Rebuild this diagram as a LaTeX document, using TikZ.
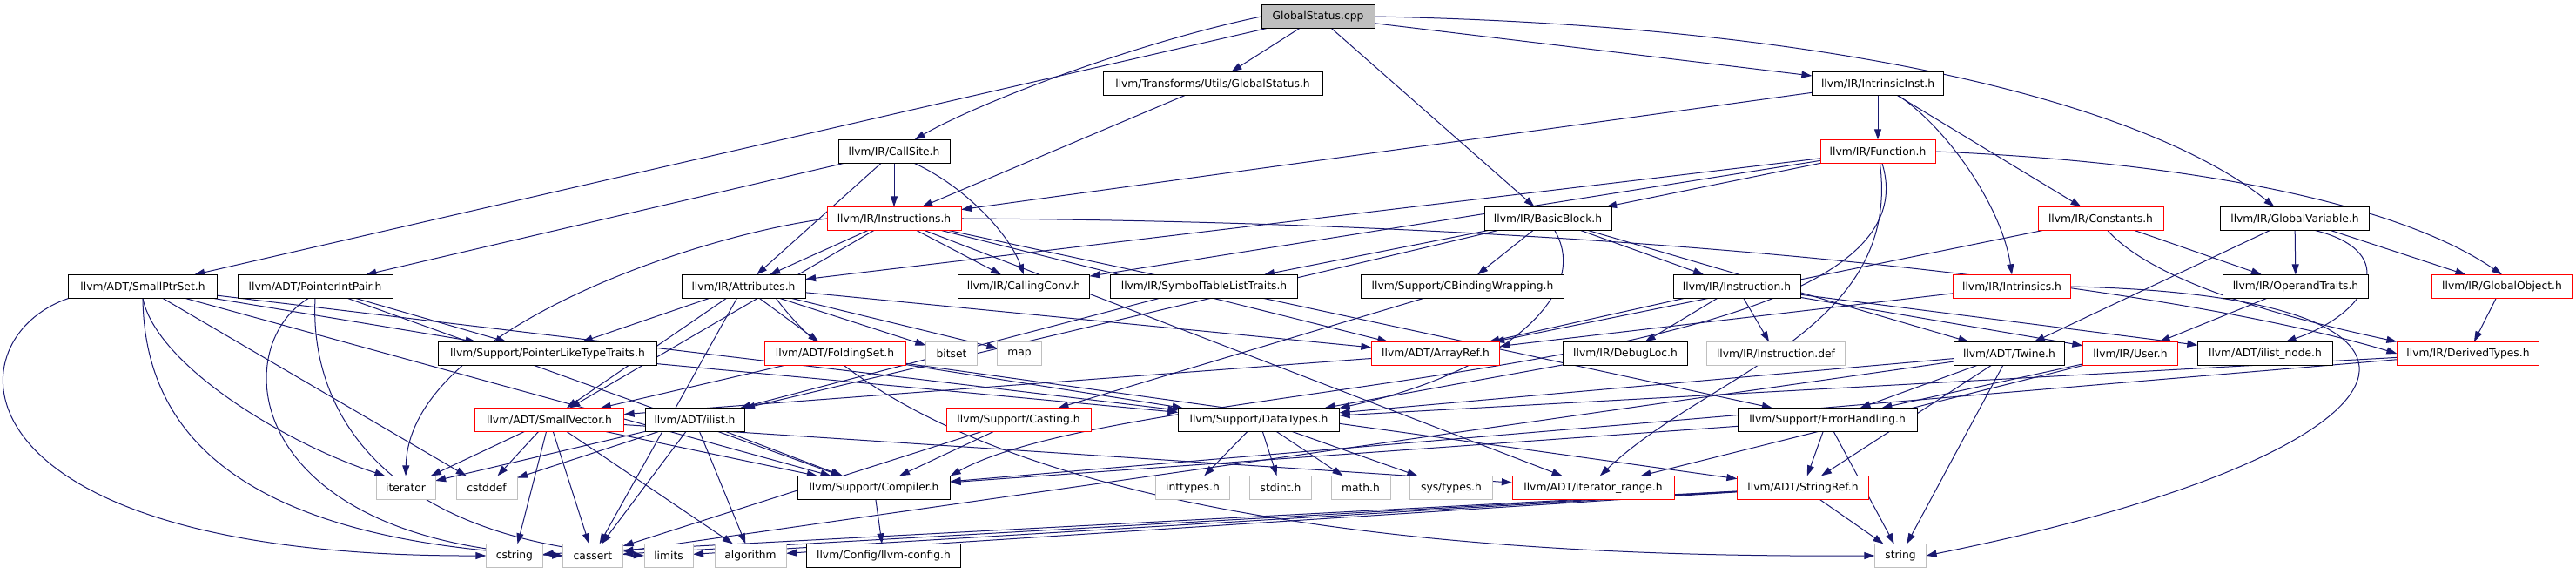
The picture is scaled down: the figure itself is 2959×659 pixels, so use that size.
\documentclass[tikz,border=0pt]{standalone}
\usepackage{fontspec}
\setmainfont{DejaVu Sans}
\usetikzlibrary{arrows.meta}
\pgfdeclarelayer{edges}
\pgfsetlayers{edges,main}
\definecolor{edgeblue}{HTML}{191970}
\definecolor{boxred}{HTML}{FF0000}
\definecolor{boxgray}{HTML}{BFBFBF}
\tikzset{
  hdr/.style={draw=black, fill=white, line width=0.25pt, minimum height=27pt, inner sep=0pt, font=\fontsize{12.3}{14}\selectfont},
  hdrred/.style={hdr, draw=boxred},
  sys/.style={hdr, draw=boxgray},
  src/.style={hdr, fill=boxgray},
  dep/.style={-{Triangle[length=3pt,width=2pt]}, draw=edgeblue, line width=0.25pt}
}

\begin{document}
\begin{tikzpicture}[x=1pt, y=1pt, scale=0.25, every node/.append style={transform shape}]
\useasboundingbox (0,0) rectangle (2959,-659);

% row 0 to 3
\node (root) at (1514,-19) [src, minimum width=130pt] {GlobalStatus.cpp};
\node (gsh) at (1393,-96) [hdr, minimum width=252pt] {llvm/Transforms/Utils/GlobalStatus.h};
\node (ii) at (2157,-96) [hdr, minimum width=151pt] {llvm/IR/IntrinsicInst.h};
\node (cs) at (1027,-174) [hdr, minimum width=128pt] {llvm/IR/CallSite.h};
\node (fn) at (2157,-174) [hdrred, minimum width=132pt] {llvm/IR/Function.h};
\node (ins) at (1027,-251) [hdrred, minimum width=154pt] {llvm/IR/Instructions.h};
\node (bb) at (1778,-251) [hdr, minimum width=146pt] {llvm/IR/BasicBlock.h};
\node (cst) at (2413,-251) [hdrred, minimum width=144pt] {llvm/IR/Constants.h};
\node (gv) at (2636,-251) [hdr, minimum width=171pt] {llvm/IR/GlobalVariable.h};

% row 4
\node (sps) at (164,-329) [hdr, minimum width=171pt] {llvm/ADT/SmallPtrSet.h};
\node (pip) at (362,-329) [hdr, minimum width=178pt] {llvm/ADT/PointerIntPair.h};
\node (att) at (854,-329) [hdr, minimum width=142pt] {llvm/IR/Attributes.h};
\node (cc) at (1176,-329) [hdr, minimum width=151pt] {llvm/IR/CallingConv.h};
\node (stlt) at (1383,-329) [hdr, minimum width=215pt] {llvm/IR/SymbolTableListTraits.h};
\node (cbw) at (1680,-329) [hdr, minimum width=233pt] {llvm/Support/CBindingWrapping.h};
\node (inst) at (1995,-329) [hdr, minimum width=146pt] {llvm/IR/Instruction.h};
\node (intr) at (2311,-329) [hdrred, minimum width=135pt] {llvm/IR/Intrinsics.h};
\node (ot) at (2637,-329) [hdr, minimum width=167pt] {llvm/IR/OperandTraits.h};
\node (go) at (2874,-329) [hdrred, minimum width=161pt] {llvm/IR/GlobalObject.h};

% row 5
\node (pltt) at (629,-406) [hdr, minimum width=251pt] {llvm/Support/PointerLikeTypeTraits.h};
\node (fs) at (959,-406) [hdrred, minimum width=162pt] {llvm/ADT/FoldingSet.h};
\node (bits) at (1093,-406) [sys, minimum width=59pt] {bitset};
\node (map) at (1171,-406) [sys, minimum width=51pt] {map};
\node (arr) at (1649,-406) [hdrred, minimum width=147pt] {llvm/ADT/ArrayRef.h};
\node (dl) at (1867,-406) [hdr, minimum width=143pt] {llvm/IR/DebugLoc.h};
\node (idef) at (2040,-406) [sys, minimum width=159pt] {llvm/IR/Instruction.def};
\node (tw) at (2308,-406) [hdr, minimum width=127pt] {llvm/ADT/Twine.h};
\node (usr) at (2447,-406) [hdrred, minimum width=109pt] {llvm/IR/User.h};
\node (iln) at (2602,-406) [hdr, minimum width=155pt] {llvm/ADT/ilist\_node.h};
\node (dty) at (2835,-406) [hdrred, minimum width=163pt] {llvm/IR/DerivedTypes.h};

% row 6
\node (sv) at (631,-482) [hdrred, minimum width=171pt] {llvm/ADT/SmallVector.h};
\node (ilst) at (798,-482) [hdr, minimum width=114pt] {llvm/ADT/ilist.h};
\node (cast) at (1170,-482) [hdrred, minimum width=166pt] {llvm/Support/Casting.h};
\node (dt) at (1446,-482) [hdr, minimum width=185pt] {llvm/Support/DataTypes.h};
\node (eh) at (2099,-482) [hdr, minimum width=206pt] {llvm/Support/ErrorHandling.h};

% row 7
\node (iter) at (466,-560) [sys, minimum width=68pt] {iterator};
\node (cdd) at (559,-560) [sys, minimum width=70pt] {cstddef};
\node (cmp) at (1004,-560) [hdr, minimum width=175pt] {llvm/Support/Compiler.h};
\node (inty) at (1370,-560) [sys, minimum width=85pt] {inttypes.h};
\node (stdi) at (1471,-560) [sys, minimum width=71pt] {stdint.h};
\node (math) at (1563,-560) [sys, minimum width=68pt] {math.h};
\node (syst) at (1667,-560) [sys, minimum width=95pt] {sys/types.h};
\node (itr) at (1830,-560) [hdrred, minimum width=186pt] {llvm/ADT/iterator\_range.h};
\node (sref) at (2071,-560) [hdrred, minimum width=151pt] {llvm/ADT/StringRef.h};

% row 8
\node (cstr) at (591,-638) [sys, minimum width=65pt] {cstring};
\node (cas) at (681,-638) [sys, minimum width=69pt] {cassert};
\node (lim) at (768,-638) [sys, minimum width=56pt] {limits};
\node (alg) at (862,-638) [sys, minimum width=82pt] {algorithm};
\node (cfg) at (1015,-638) [hdr, minimum width=177pt] {llvm/Config/llvm-config.h};
\node (str) at (2183,-638) [sys, minimum width=59pt] {string};

\begin{pgfonlayer}{edges}
% GlobalStatus.cpp
\draw[dep] (root) -- (gsh);
\draw[dep] (root) -- (sps);
\draw[dep] (root.west) .. controls (1300,-50) and (1120,-120) .. (cs.30);
\draw[dep] (root) -- (bb);
\draw[dep] (root) -- (ii);
\draw[dep] (root.east) .. controls (2150,-30) and (2480,-130) .. (gv.150);
\draw[dep] (gsh) -- (ins);

% CallSite.h
\draw[dep] (cs) -- (pip);
\draw[dep] (cs) -- (att);
\draw[dep] (cs) -- (ins);
\draw[dep] (cs.-30) .. controls (1110,-215) and (1160,-270) .. (cc.north);

% IntrinsicInst.h
\draw[dep] (ii) -- (fn);
\draw[dep] (ii) -- (ins);
\draw[dep] (ii.-30) .. controls (2240,-150) and (2300,-240) .. (intr.north);
\draw[dep] (ii) -- (cst);

% Function.h
\draw[dep] (fn) -- (att);
\draw[dep] (fn) -- (cc);
\draw[dep] (fn) -- (bb);
\draw[dep] (fn.east) .. controls (2500,-185) and (2750,-230) .. (go.north);
\draw[dep] (fn.-80) .. controls (2185,-380) and (1960,-430) .. (itr.60);
\draw[dep] (fn.-70) .. controls (2240,-440) and (1300,-430) .. (cmp.north east);

% Instructions.h
\draw[dep] (ins) -- (att);
\draw[dep] (ins) -- (cc);
\draw[dep] (ins) -- (arr);
\draw[dep] (ins) -- (sv);
\draw[dep] (ins) -- (itr);
\draw[dep] (ins) -- (eh);
\draw[dep] (ins.east) .. controls (1900,-255) and (2500,-330) .. (dty.west);
\draw[dep] (ins.west) .. controls (800,-270) and (470,-380) .. (iter.north);

% BasicBlock.h
\draw[dep] (bb) -- (stlt);
\draw[dep] (bb) -- (ilst);
\draw[dep] (bb) -- (cbw);
\draw[dep] (bb.-60) .. controls (1830,-340) and (1720,-430) .. (dt.north east);
\draw[dep] (bb) -- (inst);
\draw[dep] (bb) -- (tw);

% Constants.h and GlobalVariable.h
\draw[dep] (cst) -- (arr);
\draw[dep] (cst) -- (ot);
\draw[dep] (cst.-60) .. controls (2480,-330) and (2650,-370) .. (dty.north west);
\draw[dep] (gv) -- (tw);
\draw[dep] (gv) -- (ot);
\draw[dep] (gv.-30) .. controls (2760,-290) and (2720,-360) .. (iln.30);
\draw[dep] (gv) -- (go);

% SmallPtrSet.h
\draw[dep] (sps.south west) .. controls (-60,-390) and (-60,-640) .. (cstr.west);
\draw[dep] (sps.south) .. controls (166,-480) and (250,-620) .. (cas.west);
\draw[dep] (sps.south) .. controls (180,-420) and (330,-510) .. (iter.150);
\draw[dep] (sps) -- (cdd);
\draw[dep] (sps) -- (cmp);
\draw[dep] (sps) -- (dt);
\draw[dep] (sps) -- (pltt);

% PointerIntPair.h
\draw[dep] (pip) -- (pltt);
\draw[dep] (pip) -- (cmp);
\draw[dep] (pip.-120) .. controls (260,-400) and (280,-620) .. (cas.west);
\draw[dep] (pip.south) .. controls (355,-480) and (450,-620) .. (lim.west);

% Attributes.h
\draw[dep] (att) -- (pltt);
\draw[dep] (att) -- (sv);
\draw[dep] (att) -- (fs);
\draw[dep] (att) -- (bits);
\draw[dep] (att) -- (map);
\draw[dep] (att) -- (arr);
\draw[dep] (att.-20) .. controls (1100,-620) and (1800,-640) .. (str.west);
\draw[dep] (att) -- (cas);

\draw[dep] (stlt) -- (ilst);
\draw[dep] (cbw) -- (cast);

% Instruction.h
\draw[dep] (inst) -- (arr);
\draw[dep] (inst) -- (dl);
\draw[dep] (inst) -- (idef);
\draw[dep] (inst) -- (usr);
\draw[dep] (inst) -- (iln);

% Intrinsics.h
\draw[dep] (intr) -- (arr);
\draw[dep] (intr.east) .. controls (2880,-340) and (2800,-520) .. (str.east);

\draw[dep] (ot) -- (usr);
\draw[dep] (go) -- (dty);
\draw[dep] (pltt) -- (dt);

% FoldingSet.h
\draw[dep] (fs) -- (sv);
\draw[dep] (fs) -- (dt);
\draw[dep] (fs) -- (sref);
\draw[dep] (arr) -- (sv);
\draw[dep] (dl) -- (dt);

% Twine.h
\draw[dep] (tw) -- (dt);
\draw[dep] (tw) -- (eh);
\draw[dep] (tw) -- (sref);
\draw[dep] (tw) -- (str);
\draw[dep] (tw) -- (cas);

% User.h
\draw[dep] (usr) -- (eh);
\draw[dep] (usr) -- (itr);

% DerivedTypes.h
\draw[dep] (dty) -- (dt);
\draw[dep] (dty) -- (cmp);

% SmallVector.h
\draw[dep] (sv) -- (iter);
\draw[dep] (sv) -- (cdd);
\draw[dep] (sv) -- (cstr);
\draw[dep] (sv) -- (cas);
\draw[dep] (sv) -- (alg);
\draw[dep] (sv) -- (cmp);
\draw[dep] (sv) -- (itr);

% ilist.h
\draw[dep] (ilst) -- (iter);
\draw[dep] (ilst) -- (cdd);
\draw[dep] (ilst) -- (cas);
\draw[dep] (ilst) -- (alg);
\draw[dep] (ilst) -- (cmp);

\draw[dep] (cast) -- (cmp);
\draw[dep] (cast) -- (cas);

% DataTypes.h
\draw[dep] (dt) -- (inty);
\draw[dep] (dt) -- (stdi);
\draw[dep] (dt) -- (math);
\draw[dep] (dt) -- (syst);

% ErrorHandling.h
\draw[dep] (eh) -- (sref);
\draw[dep] (eh) -- (cmp);
\draw[dep] (eh) -- (str);

% StringRef.h
\draw[dep] (sref) -- (str);
\draw[dep] (sref) -- (cas);
\draw[dep] (sref) -- (cstr);
\draw[dep] (sref) -- (lim);
\draw[dep] (sref) -- (alg);

\draw[dep] (cmp) -- (cfg);
\end{pgfonlayer}
\end{tikzpicture}
\end{document}
